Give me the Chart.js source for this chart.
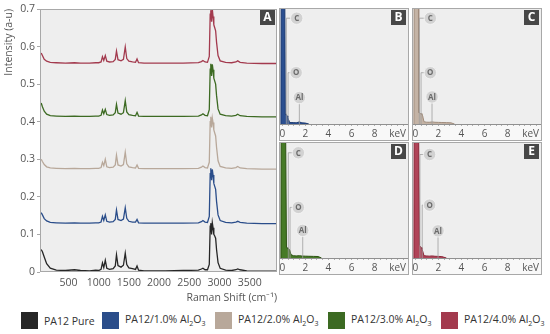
<!DOCTYPE html>
<html lang="en">
<head>
  <meta charset="UTF-8" />
  <title>Raman and EDS spectra - PA12/Al2O3</title>
  <script src="https://cdn.jsdelivr.net/npm/chart.js"></script>
  <style>
    body { margin: 0; background: #fff; font-family: 'Open Sans', sans-serif; }
    #wrap { position: relative; width: 550px; height: 334px; overflow: hidden; }
    canvas { position: absolute; }
    #ramanChart { left: 0; top: 0; }
    #edsB { left: 279px; top: 8px; }
    #edsC { left: 412px; top: 8px; }
    #edsD { left: 279px; top: 142px; }
    #edsE { left: 412px; top: 142px; }
    .item { position: absolute; top: 312px; display: flex; align-items: center; font-size: 10.5px; color: #333; white-space: nowrap; }
    .item span.sq { display: inline-block; width: 17px; height: 17px; margin-right: 6px; }
  </style>
</head>
<body>
  <div id="wrap">
    <canvas id="ramanChart" width="280" height="308"></canvas>
    <canvas id="edsB" width="130" height="133"></canvas>
    <canvas id="edsC" width="130" height="133"></canvas>
    <canvas id="edsD" width="130" height="133"></canvas>
    <canvas id="edsE" width="130" height="133"></canvas>
    <div id="legend"></div>
  </div>

  <script>
    // Raman spectra (panel A)
    const ramanShift = [50, 70, 100, 140, 200, 300, 450, 600, 700, 850, 950, 1000, 1040, 1063, 1085, 1110, 1135, 1180, 1240, 1275,
      1295, 1320, 1370, 1410, 1440, 1465, 1500, 1560, 1610, 1635, 1660, 1750, 1900, 2100, 2400, 2650, 2700, 2725, 2760, 2800,
      2830, 2845, 2855, 2868, 2880, 2892, 2905, 2920, 2935, 2950, 2975, 3010, 3100, 3200, 3270, 3300, 3340, 3450, 3700, 3950];

    const pa12Pure = [0.060, 0.054, 0.040, 0.022, 0.010, 0.005, 0.004, 0.006, 0.004, 0.003, 0.005, 0.004, 0.007, 0.024, 0.012, 0.031, 0.010, 0.007, 0.009, 0.016,
      0.046, 0.017, 0.013, 0.018, 0.050, 0.020, 0.011, 0.009, 0.007, 0.016, 0.005, 0.003, 0.003, 0.003, 0.004, 0.005, 0.008, 0.010, 0.006, 0.006,
      0.020, 0.122, 0.130, 0.100, 0.131, 0.118, 0.100, 0.096, 0.090, 0.060, 0.025, 0.010, 0.005, 0.004, 0.006, 0.008, 0.006, 0.003, 0.002, 0.002];
    const pa12Al1 = [0.158, 0.152, 0.142, 0.136, 0.132, 0.131, 0.130, 0.131, 0.130, 0.130, 0.131, 0.131, 0.133, 0.148, 0.137, 0.152, 0.135, 0.133, 0.134, 0.140,
      0.165, 0.140, 0.137, 0.141, 0.171, 0.143, 0.135, 0.133, 0.133, 0.140, 0.131, 0.130, 0.130, 0.130, 0.130, 0.131, 0.134, 0.137, 0.133, 0.132,
      0.148, 0.262, 0.276, 0.244, 0.273, 0.258, 0.236, 0.228, 0.220, 0.188, 0.152, 0.137, 0.132, 0.131, 0.133, 0.135, 0.132, 0.130, 0.129, 0.129];
    const pa12Al2 = [0.300, 0.294, 0.286, 0.280, 0.277, 0.276, 0.275, 0.276, 0.275, 0.275, 0.276, 0.276, 0.278, 0.292, 0.283, 0.300, 0.280, 0.278, 0.279, 0.285,
      0.311, 0.285, 0.282, 0.286, 0.319, 0.288, 0.280, 0.278, 0.277, 0.285, 0.276, 0.275, 0.275, 0.275, 0.275, 0.276, 0.279, 0.282, 0.278, 0.277,
      0.292, 0.400, 0.413, 0.385, 0.410, 0.398, 0.378, 0.370, 0.362, 0.332, 0.296, 0.281, 0.277, 0.276, 0.278, 0.281, 0.277, 0.275, 0.274, 0.274];
    const pa12Al3 = [0.450, 0.440, 0.428, 0.420, 0.416, 0.415, 0.414, 0.415, 0.414, 0.414, 0.415, 0.415, 0.417, 0.431, 0.421, 0.433, 0.419, 0.417, 0.418, 0.424,
      0.446, 0.423, 0.420, 0.424, 0.456, 0.426, 0.419, 0.417, 0.416, 0.425, 0.415, 0.414, 0.414, 0.414, 0.414, 0.415, 0.418, 0.421, 0.417, 0.416,
      0.432, 0.540, 0.554, 0.522, 0.553, 0.538, 0.516, 0.508, 0.500, 0.470, 0.434, 0.420, 0.416, 0.415, 0.417, 0.420, 0.416, 0.414, 0.413, 0.413];
    const pa12Al4 = [0.583, 0.576, 0.566, 0.561, 0.558, 0.557, 0.556, 0.557, 0.556, 0.556, 0.557, 0.557, 0.559, 0.573, 0.563, 0.576, 0.561, 0.559, 0.560, 0.566,
      0.588, 0.565, 0.562, 0.566, 0.599, 0.568, 0.561, 0.559, 0.558, 0.567, 0.557, 0.556, 0.556, 0.556, 0.556, 0.557, 0.560, 0.563, 0.559, 0.558,
      0.574, 0.686, 0.697, 0.666, 0.700, 0.680, 0.658, 0.650, 0.642, 0.612, 0.576, 0.562, 0.558, 0.557, 0.559, 0.562, 0.558, 0.556, 0.555, 0.555];

    const seriesNames = ['PA12 Pure', 'PA12/1.0% Al₂O₃', 'PA12/2.0% Al₂O₃', 'PA12/3.0% Al₂O₃', 'PA12/4.0% Al₂O₃'];
    const ramanTicks = [500, 1000, 1500, 2000, 2500, 3000, 3500];

    // EDS spectra (panels B-E), counts in % of panel height
    const energyKeV = [-0.12, -0.09, 0.0, 0.1, 0.2, 0.23, 0.26, 0.3, 0.36, 0.42, 0.48, 0.54, 0.58, 0.64, 0.75, 0.95, 1.2, 1.48, 1.7, 2.0, 2.3, 2.7, 3.1, 3.4, 3.6];
    const edsB = [0, 150, 150, 150, 150, 150, 9, 8, 8, 7, 6, 3, 2, 1.5, 1.2, 1.2, 1.0, 1.8, 1.0, 0.8, 0, null, null, null, null];
    const edsC = [0, 150, 150, 150, 150, 150, 150, 10, 10, 9, 9, 9, 8, 7, 2, 1.6, 1.5, 1.8, 1.5, 1.4, 1.3, 1.2, 1.0, 0, null];
    const edsD = [0, 150, 150, 150, 150, 150, 150, 150, 9, 9, 8, 8, 8, 7, 3, 2, 1.8, 2.0, 1.7, 1.6, 1.5, 1.4, 1.3, 0, null];
    const edsE = [0, 150, 150, 150, 150, 150, 150, 150, 11, 10, 10, 9, 8, 6, 2, 1.8, 1.6, 1.8, 1.5, 1.4, 1.2, 0, null, null, null];
    const edsTicks = [0, 2, 4, 6, 8, 10];
    const edsTickLabels = ['0', '2', '4', '6', '8', 'keV'];
    const elements = ['C', 'O', 'Al'];
    const elementKeV = { B: [0.35, 0.5, 1.48], C: [0.35, 0.5, 1.45], D: [0.52, 0.67, 1.77], E: [0.4, 0.6, 1.97] };

    const lineColors = ['#262626', '#2a4d8a', '#b8a89a', '#3c6a22', '#a33a4e'];
    const fillColors = { B: ['#2b4f90', '#1c3a70'], C: ['#c4b3a5', '#a08c7c'], D: ['#467a26', '#2c5212'], E: ['#b04458', '#8a2638'] };

    Chart.defaults.font.family = "'Open Sans', sans-serif";
    Chart.defaults.color = '#555';
    Chart.defaults.animation = false;

    const panelFrame = {
      id: 'panelFrame',
      beforeDraw(chart, args, opts) {
        const { ctx, chartArea: a, width, height } = chart;
        ctx.save();
        ctx.fillStyle = opts.strip || '#fff';
        ctx.fillRect(0, 0, width, height);
        ctx.fillStyle = '#eeeeee';
        ctx.fillRect(a.left, a.top, a.right - a.left, a.bottom - a.top);
        ctx.restore();
      },
      afterDraw(chart, args, opts) {
        const { ctx, chartArea: a, width, height } = chart;
        ctx.save();
        ctx.strokeStyle = '#a8a8a8';
        ctx.lineWidth = 1;
        if (opts.whole) ctx.strokeRect(0.5, 0.5, width - 1, height - 1);
        else ctx.strokeRect(a.left + 0.5, a.top + 0.5, a.right - a.left - 1, a.bottom - a.top - 1);
        ctx.fillStyle = '#474747';
        ctx.fillRect(a.right - 17, a.top + 1, 15, 15);
        ctx.fillStyle = '#fff';
        ctx.font = "bold 12px 'Open Sans'";
        ctx.textAlign = 'center';
        ctx.textBaseline = 'middle';
        ctx.fillText(opts.letter, a.right - 9.5, a.top + 9);
        ctx.restore();
      }
    };

    const elementMarks = {
      id: 'elementMarks',
      afterDatasetsDraw(chart, args, opts) {
        if (!opts.energies) return;
        const { ctx, scales: { x, y } } = chart;
        const base = y.getPixelForValue(0);
        ctx.save();
        elements.forEach((el, i) => {
          const px = x.getPixelForValue(opts.energies[i]);
          const bx = x.getPixelForValue(opts.badgeKeV[i]);
          const py = y.getPixelForValue(opts.levels[i]);
          ctx.strokeStyle = '#a0a0a0';
          ctx.lineWidth = 0.8;
          ctx.beginPath();
          if (Math.abs(bx - px) > 1) {
            ctx.moveTo(bx - 6, py);
            ctx.lineTo(px, py);
            ctx.lineTo(px, base);
          } else {
            ctx.moveTo(px, py + 6);
            ctx.lineTo(px, base);
          }
          ctx.stroke();
          ctx.beginPath();
          ctx.arc(bx, py, 6.2, 0, Math.PI * 2);
          ctx.fillStyle = '#d2d2d2';
          ctx.fill();
          ctx.strokeStyle = '#f6f6f6';
          ctx.stroke();
          ctx.fillStyle = '#6b6b6b';
          ctx.font = "bold 8px 'Open Sans'";
          ctx.textAlign = 'center';
          ctx.textBaseline = 'middle';
          ctx.fillText(el, bx, py + 0.5);
        });
        ctx.restore();
      }
    };

    // Panel A
    const seriesData = [pa12Pure, pa12Al1, pa12Al2, pa12Al3, pa12Al4];
    new Chart(document.getElementById('ramanChart'), {
      type: 'line',
      data: {
        datasets: seriesData.map((vals, i) => ({
          label: seriesNames[i],
          data: ramanShift.map((x, j) => ({ x, y: vals[j] })),
          borderColor: lineColors[i],
          borderWidth: 1.3,
          pointRadius: 0,
          tension: 0
        }))
      },
      options: {
        responsive: false,
        layout: { padding: { top: 9, right: 3, left: 0, bottom: 0 } },
        plugins: { legend: { display: false }, tooltip: { enabled: false }, panelFrame: { letter: 'A' } },
        scales: {
          x: {
            type: 'linear', min: 30, max: 3950,
            afterBuildTicks: s => { s.ticks = ramanTicks.map(v => ({ value: v })); },
            afterFit: s => { s.height = 36; s.paddingLeft = 0; s.paddingRight = 0; },
            grid: { display: false, drawTicks: false },
            border: { display: false },
            ticks: { font: { size: 10.5 }, padding: 5, maxRotation: 0, callback: v => String(v) },
            title: { display: true, text: 'Raman Shift (cm⁻¹)', align: 'end', font: { size: 10.5 }, padding: { top: 0, bottom: 4 } }
          },
          y: {
            min: 0, max: 0.7,
            afterFit: s => { s.width = 40; },
            grid: { drawOnChartArea: false, tickLength: 3, color: '#a8a8a8' },
            border: { display: false },
            ticks: { stepSize: 0.1, font: { size: 10.5 }, padding: 2 },
            title: { display: true, text: 'Intensity (a-u)', align: 'end', font: { size: 10.5 }, padding: { top: 3, bottom: 0 } }
          }
        }
      },
      plugins: [panelFrame]
    });

    // Panels B-E
    const edsPanels = [
      { id: 'edsB', letter: 'B', data: edsB, badgeKeV: [1.25, 1.2, 1.48], levels: [92, 44.6, 23] },
      { id: 'edsC', letter: 'C', data: edsC, badgeKeV: [1.3, 1.3, 1.45], levels: [92, 44.6, 23.5] },
      { id: 'edsD', letter: 'D', data: edsD, badgeKeV: [1.39, 1.39, 1.77], levels: [91.5, 44, 24] },
      { id: 'edsE', letter: 'E', data: edsE, badgeKeV: [1.24, 1.24, 1.97], levels: [90, 46, 23.6] }
    ];
    const minorTicks = [];
    for (let v = 0; v <= 10.5; v += 0.5) minorTicks.push(v);

    edsPanels.forEach(p => {
      new Chart(document.getElementById(p.id), {
        type: 'line',
        data: {
          datasets: [{
            data: energyKeV.map((x, j) => ({ x, y: p.data[j] })),
            borderColor: fillColors[p.letter][1],
            backgroundColor: fillColors[p.letter][0],
            borderWidth: 1,
            fill: 'origin',
            pointRadius: 0,
            tension: 0,
            spanGaps: false
          }]
        },
        options: {
          responsive: false,
          layout: { padding: { top: 1, right: 1, left: 1, bottom: 0 } },
          plugins: {
            legend: { display: false }, tooltip: { enabled: false },
            panelFrame: { letter: p.letter, whole: true, strip: '#f8f8f8' },
            elementMarks: { energies: elementKeV[p.letter], badgeKeV: p.badgeKeV, levels: p.levels }
          },
          scales: {
            x: {
              type: 'linear', min: -0.2, max: 10.9,
              afterBuildTicks: s => { s.ticks = minorTicks.map(v => ({ value: v })); },
              afterFit: s => { s.height = 17; s.paddingLeft = 0; s.paddingRight = 0; },
              grid: { drawOnChartArea: false, tickLength: 2, color: '#b0b0b0' },
              border: { display: true, color: '#909090' },
              ticks: {
                autoSkip: false, maxRotation: 0, padding: 2, font: { size: 10 },
                callback: v => { const k = edsTicks.indexOf(v); return k >= 0 ? edsTickLabels[k] : ''; }
              }
            },
            y: { display: false, min: 0, max: 100 }
          }
        },
        plugins: [panelFrame, elementMarks]
      });
    });

    // Legend
    const legendLeft = [21, 102, 215, 328, 441];
    const legend = document.getElementById('legend');
    seriesNames.forEach((name, i) => {
      const item = document.createElement('div');
      item.className = 'item';
      item.style.left = legendLeft[i] + 'px';
      const sq = document.createElement('span');
      sq.className = 'sq';
      sq.style.background = lineColors[i];
      const txt = document.createElement('span');
      txt.innerHTML = name.replace('Al₂O₃', 'Al<sub style="font-size:7px">2</sub>O<sub style="font-size:7px">3</sub>');
      item.appendChild(sq);
      item.appendChild(txt);
      legend.appendChild(item);
    });
  </script>
</body>
</html>
